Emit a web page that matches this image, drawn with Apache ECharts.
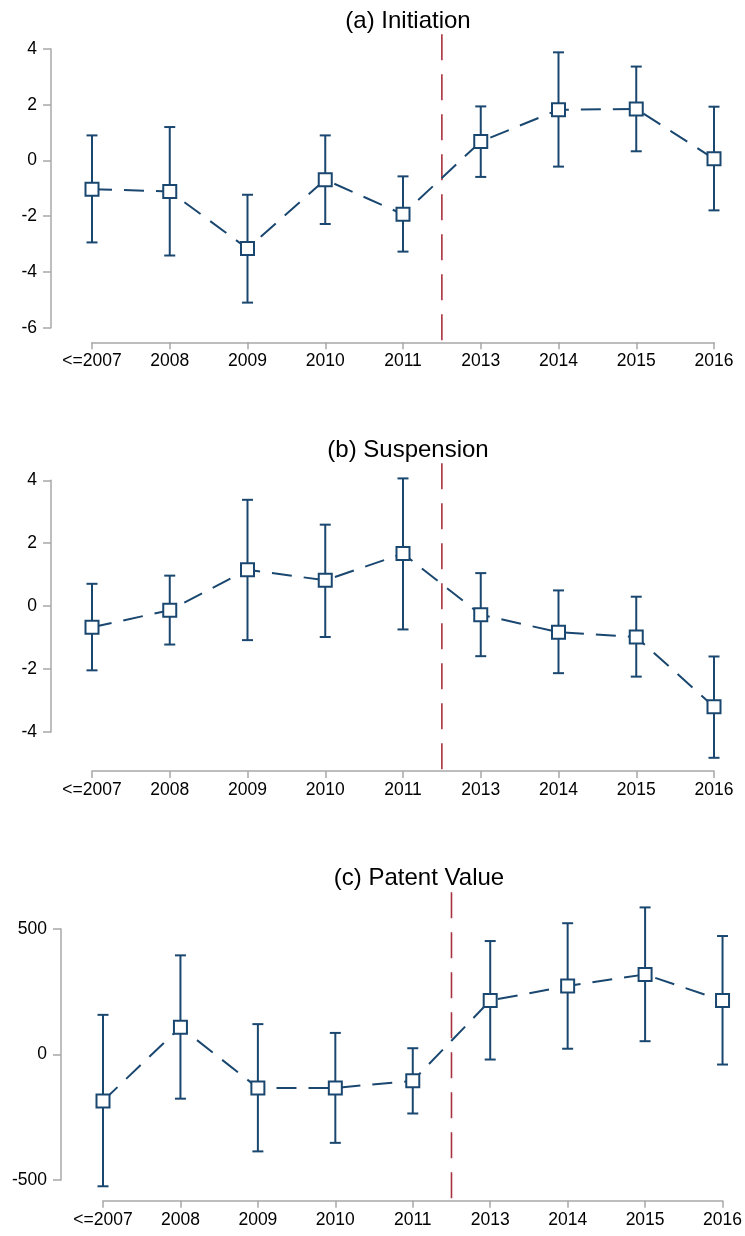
<!DOCTYPE html>
<html>
<head>
<meta charset="utf-8">
<script src="https://cdn.jsdelivr.net/npm/echarts@6/dist/echarts.min.js"></script>
<style>
html,body{margin:0;padding:0;background:#fff;}
#chart{width:745px;height:1236px;}
</style>
</head>
<body>
<div id="chart"></div>
<script>
const categories = ['<=2007','2008','2009','2010','2011','2013','2014','2015','2016'];
const panelTitles = ['(a) Initiation','(b) Suspension','(c) Patent Value'];

// (a) Initiation
const initEst = [-1.03, -1.11, -3.16, -0.69, -1.93, 0.68, 1.82, 1.85, 0.06];
const initLo  = [-2.94, -3.41, -5.10, -2.28, -3.27, -0.59, -0.22, 0.33, -1.79];
const initHi  = [0.90, 1.20, -1.23, 0.90, -0.57, 1.94, 3.88, 3.37, 1.93];

// (b) Suspension
const suspEst = [-0.67, -0.13, 1.16, 0.82, 1.67, -0.27, -0.83, -0.98, -3.20];
const suspLo  = [-2.04, -1.22, -1.08, -0.98, -0.74, -1.59, -2.13, -2.24, -4.82];
const suspHi  = [0.71, 0.97, 3.38, 2.59, 4.06, 1.05, 0.50, 0.30, -1.60];

// (c) Patent Value
const valEst = [-185, 109, -133, -133, -105, 215, 273, 319, 215];
const valLo  = [-525, -176, -386, -352, -235, -20, 23, 53, -40];
const valHi  = [158, 395, 121, 86, 25, 452, 523, 586, 472];

// y-axis tick ranges [min, max, interval]
const yTicks = [[-6, 4, 2], [-4, 4, 2], [-500, 500, 500]];
// reference (policy) line: x position between 2011 and 2013, vertical extent in data units
const refX = 4.5;
const refSpan = [[4.53, -6.51], [4.54, -5.25], [646, -584]];

const BLUE = '#1a476f';
const RED = '#a8323e';
const GRAY = '#a8a8a8';
const FONT = 'Liberation Sans, Arial, sans-serif';

const grids = [
  {left: 92, right: 31, top: 49, height: 278.7},
  {left: 92, right: 31, top: 480.3, height: 251.7},
  {left: 103, right: 20, top: 929, height: 251}
];
const xOffsets = [14.6, 39, 20.7];
const yOffsets = [41, 41, 42];
const titleTops = [4, 433, 861];
const titleCenters = [403, 403, 414];

const panels = [
  {est: initEst, lo: initLo, hi: initHi},
  {est: suspEst, lo: suspLo, hi: suspHi},
  {est: valEst, lo: valLo, hi: valHi}
];

const option = {
  animation: false,
  backgroundColor: '#fff',
  title: panelTitles.map((t, i) => ({
    text: t, left: titleCenters[i], top: titleTops[i], textAlign: 'center',
    textStyle: {fontFamily: FONT, fontSize: 24, fontWeight: 'normal', color: '#000'}
  })),
  grid: grids,
  xAxis: grids.map((g, i) => ({
    type: 'value', gridIndex: i, position: 'bottom', min: 0, max: categories.length - 1, interval: 1,
    offset: xOffsets[i],
    axisLine: {show: true, onZero: false, lineStyle: {color: GRAY, width: 1.5}},
    axisTick: {show: true, length: 7, lineStyle: {color: GRAY, width: 1.5}},
    axisLabel: {
      margin: 10, color: '#000', fontFamily: FONT, fontSize: 17.5,
      showMinLabel: true, showMaxLabel: true,
      formatter: v => categories[Math.round(v)] || ''
    },
    splitLine: {show: false}
  })),
  yAxis: grids.map((g, i) => ({
    type: 'value', gridIndex: i, position: 'left', min: yTicks[i][0], max: yTicks[i][1], interval: yTicks[i][2],
    offset: yOffsets[i],
    axisLine: {show: true, onZero: false, lineStyle: {color: GRAY, width: 1.5}},
    axisTick: {show: true, length: 8, lineStyle: {color: GRAY, width: 1.5}},
    axisLabel: {margin: 14, color: '#000', fontFamily: FONT, fontSize: 17.5,
      showMinLabel: true, showMaxLabel: true},
    splitLine: {show: false}
  })),
  series: []
};

panels.forEach((p, i) => {
  // reference line
  option.series.push({
    type: 'custom', xAxisIndex: i, yAxisIndex: i, clip: false, z: 1,
    data: [[refX, refSpan[i][0], refSpan[i][1]]],
    encode: {x: 0, y: [1, 2]},
    renderItem: (params, api) => {
      const a = api.coord([api.value(0), api.value(1)]);
      const b = api.coord([api.value(0), api.value(2)]);
      return {type: 'line', shape: {x1: a[0], y1: a[1], x2: b[0], y2: b[1]},
        style: {stroke: RED, lineWidth: 1.6, lineDash: [26, 14]}};
    }
  });
  // error bars
  option.series.push({
    type: 'custom', xAxisIndex: i, yAxisIndex: i, clip: false, z: 2,
    data: categories.map((c, k) => [k, p.lo[k], p.hi[k]]),
    encode: {x: 0, y: [1, 2]},
    renderItem: (params, api) => {
      const x = api.value(0);
      const lo = api.coord([x, api.value(1)]);
      const hi = api.coord([x, api.value(2)]);
      const cw = 5.5;
      const st = {stroke: BLUE, lineWidth: 2};
      return {type: 'group', children: [
        {type: 'line', shape: {x1: hi[0], y1: hi[1], x2: lo[0], y2: lo[1]}, style: st},
        {type: 'line', shape: {x1: hi[0] - cw, y1: hi[1], x2: hi[0] + cw, y2: hi[1]}, style: st},
        {type: 'line', shape: {x1: lo[0] - cw, y1: lo[1], x2: lo[0] + cw, y2: lo[1]}, style: st}
      ]};
    }
  });
  // estimates
  option.series.push({
    type: 'line', xAxisIndex: i, yAxisIndex: i, clip: false, z: 3,
    data: p.est.map((v, k) => [k, v]),
    symbol: 'rect', symbolSize: 13, showAllSymbol: true,
    lineStyle: {color: BLUE, width: 2, type: [20, 12]},
    itemStyle: {color: '#fff', borderColor: BLUE, borderWidth: 2},
    emphasis: {disabled: true}
  });
});

const chart = echarts.init(document.getElementById('chart'), null, {renderer: 'canvas'});
chart.setOption(option);
</script>
</body>
</html>
